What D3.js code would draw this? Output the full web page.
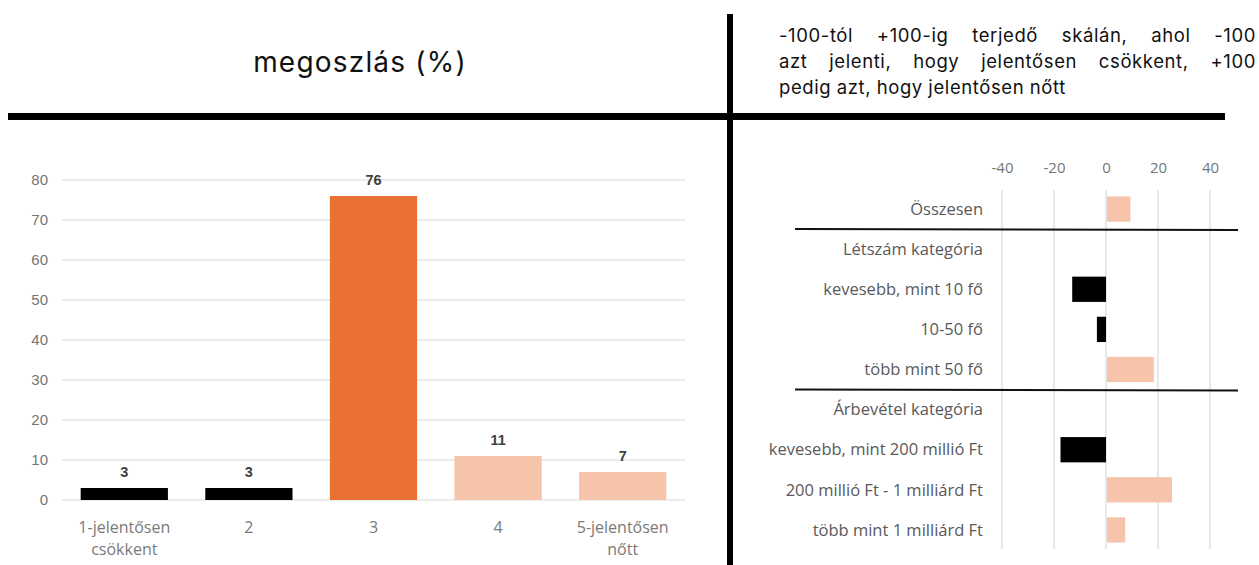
<!DOCTYPE html>
<html>
<head>
<meta charset="utf-8">
<script src="https://cdn.jsdelivr.net/npm/d3@7"></script>
<style>
  body { margin: 0; background: #fff; }
  svg { display: block; }
</style>
</head>
<body>
<svg id="chart" width="1259" height="565"></svg>
<script>
(function () {
    'use strict';

    // left panel: distribution (%)
    var distCategories = ["1-jelentősen|csökkent", "2", "3", "4", "5-jelentősen|nőtt"];
    var distValues = [3, 3, 76, 11, 7];
    var distColors = ["#000000", "#000000", "#E97132", "#F5C4AA", "#F5C4AA"];
    var distTicks = [0, 10, 20, 30, 40, 50, 60, 70, 80];

    // right panel: balance index (-100..+100)
    var balCategories = ["Összesen", "Létszám kategória", "kevesebb, mint 10 fő", "10-50 fő",
        "több mint 50 fő", "Árbevétel kategória", "kevesebb, mint 200 millió Ft",
        "200 millió Ft - 1 milliárd Ft", "több mint 1 milliárd Ft"];
    var balValues = [9, null, -13, -3.5, 18, null, -17.5, 25, 7];
    var balTicks = [-40, -20, 0, 20, 40];
    var balSeparators = [1, 5]; // line drawn above these rows

    var leftTitle = "megoszlás (%)";
    var rightTitle = [
        "-100-tól +100-ig terjedő skálán, ahol -100",
        "azt jelenti, hogy jelentősen csökkent, +100",
        "pedig azt, hogy jelentősen nőtt"
    ];

    var svg = d3.select("#chart");
    var labelFont = "'Open Sans', 'Noto Sans', sans-serif";
    var numFont = "'Liberation Sans', Arial, sans-serif";
    var titleFont = "Inter, 'Noto Sans', sans-serif";

    // frame lines
    svg.append("rect").attr("x", 8).attr("y", 113).attr("width", 1217).attr("height", 7).attr("fill", "#000");
    svg.append("rect").attr("x", 727).attr("y", 14).attr("width", 6).attr("height", 551).attr("fill", "#000");

    svg.append("text")
        .attr("x", 360).attr("y", 72)
        .attr("text-anchor", "middle")
        .style("font-family", titleFont)
        .style("font-size", "28px")
        .style("letter-spacing", "1.2px")
        .style("fill", "#111")
        .text(leftTitle);

    // justified paragraph on the right
    var parX0 = 779, parX1 = 1256;
    rightTitle.forEach(function (line, i) {
        var words = line.split(" ");
        var g = svg.append("g");
        var y = 42 + i * 26;
        var nodes = words.map(function (w) {
            return g.append("text")
                .attr("y", y)
                .style("font-family", titleFont)
                .style("font-size", "18.5px")
                .style("letter-spacing", "0.6px")
                .style("fill", "#111")
                .text(w);
        });
        var widths = nodes.map(function (n) { return n.node().getComputedTextLength(); });
        var total = d3.sum(widths);
        var last = i === rightTitle.length - 1;
        var gap = last ? 5.5 : (parX1 - parX0 - total) / (words.length - 1);
        var x = parX0;
        nodes.forEach(function (n, k) {
            n.attr("x", x);
            x += widths[k] + gap;
        });
    });

    // ---------- left bar chart ----------
    var x = d3.scaleBand().domain(distCategories).range([62, 685]).paddingInner(0.3).paddingOuter(0.15);
    var y = d3.scaleLinear().domain([0, 80]).range([500, 180]);

    var left = svg.append("g");

    left.append("g")
        .selectAll("line")
        .data(distTicks)
        .enter().append("line")
        .attr("x1", 62).attr("x2", 685)
        .attr("y1", function (d) { return y(d); })
        .attr("y2", function (d) { return y(d); })
        .attr("stroke", "#d9d9d9").attr("stroke-width", 1);

    var yAxis = left.append("g")
        .attr("transform", "translate(48,0)")
        .call(d3.axisLeft(y).tickValues(distTicks).tickSize(0).tickPadding(0));
    yAxis.attr("font-size", 15).attr("font-family", numFont);
    yAxis.select(".domain").remove();
    yAxis.selectAll("text")
        .attr("font-size", 15)
        .style("fill", "#767676");

    left.selectAll("rect.bar")
        .data(distValues)
        .enter().append("rect")
        .attr("class", "bar")
        .attr("x", function (d, i) { return x(distCategories[i]); })
        .attr("width", x.bandwidth())
        .attr("y", function (d) { return y(d); })
        .attr("height", function (d) { return y(0) - y(d); })
        .attr("fill", function (d, i) { return distColors[i]; });

    left.selectAll("text.val")
        .data(distValues)
        .enter().append("text")
        .attr("class", "val")
        .attr("x", function (d, i) { return x(distCategories[i]) + x.bandwidth() / 2; })
        .attr("y", function (d) { return y(d) - 11; })
        .attr("text-anchor", "middle")
        .style("font-family", numFont)
        .style("font-weight", "bold")
        .style("font-size", "14.5px")
        .style("fill", "#404040")
        .text(function (d) { return d; });

    distCategories.forEach(function (c) {
        var parts = c.split("|");
        var t = left.append("text")
            .attr("text-anchor", "middle")
            .style("font-family", labelFont)
            .style("font-size", "16px")
            .style("fill", "#7a7a7a");
        parts.forEach(function (p, k) {
            t.append("tspan")
                .attr("x", x(c) + x.bandwidth() / 2)
                .attr("y", 533 + k * 22)
                .text(p);
        });
    });

    // ---------- right diverging bars ----------
    var bx = d3.scaleLinear().domain([-40, 40]).range([1002, 1210]);
    var by = d3.scaleBand().domain(balCategories).range([189, 550]).paddingInner(0.37).paddingOuter(0.185);
    var step = by.step();
    var right = svg.append("g");

    right.append("g")
        .selectAll("line")
        .data(balTicks)
        .enter().append("line")
        .attr("x1", function (d) { return bx(d); })
        .attr("x2", function (d) { return bx(d); })
        .attr("y1", 190).attr("y2", 549)
        .attr("stroke", "#d9d9d9").attr("stroke-width", 1.2);

    var xAxis = right.append("g")
        .attr("transform", "translate(0,173)")
        .call(d3.axisTop(bx).tickValues(balTicks).tickSize(0).tickPadding(0)
            .tickFormat(function (d) { return String(d); }));
    xAxis.attr("font-size", 15).attr("font-family", labelFont);
    xAxis.select(".domain").remove();
    xAxis.selectAll("text")
        .attr("font-size", 15)
        .style("fill", "#767676");

    right.selectAll("rect.bar")
        .data(balValues.map(function (v, i) { return { c: balCategories[i], v: v }; })
            .filter(function (d) { return d.v !== null; }))
        .enter().append("rect")
        .attr("class", "bar")
        .attr("x", function (d) { return d.v < 0 ? bx(d.v) : bx(0) + 1; })
        .attr("width", function (d) { return Math.abs(bx(d.v) - bx(0)); })
        .attr("y", function (d) { return by(d.c); })
        .attr("height", by.bandwidth())
        .attr("fill", function (d) { return d.v < 0 ? "#000000" : "#F5C4AA"; });

    right.selectAll("text.cat")
        .data(balCategories)
        .enter().append("text")
        .attr("class", "cat")
        .attr("x", 983)
        .attr("y", function (d) { return by(d) + by.bandwidth() / 2; })
        .attr("dy", "0.35em")
        .attr("text-anchor", "end")
        .style("font-family", labelFont)
        .style("font-size", "16.5px")
        .style("fill", "#595959")
        .text(function (d) { return d; });

    right.selectAll("line.sep")
        .data(balSeparators)
        .enter().append("line")
        .attr("class", "sep")
        .attr("x1", 795).attr("x2", 1238)
        .attr("y1", function (d) { return by(balCategories[d]) - (step - by.bandwidth()) / 2; })
        .attr("y2", function (d) { return by(balCategories[d]) - (step - by.bandwidth()) / 2 + 1; })
        .attr("stroke", "#111").attr("stroke-width", 2);
}());
</script>
</body>
</html>
